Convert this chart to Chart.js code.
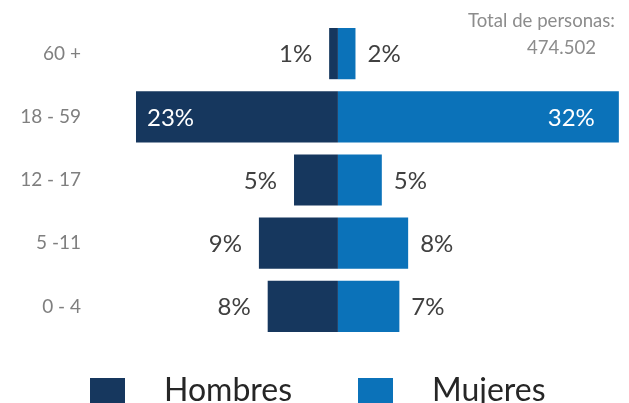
<!DOCTYPE html>
<html>
<head>
<meta charset="utf-8">
<script src="https://cdn.jsdelivr.net/npm/chart.js@4.4.1/dist/chart.umd.min.js"></script>
<style>
  html, body { margin: 0; padding: 0; background: #fff; overflow: hidden; }
  #wrap { width: 629px; height: 403px; position: relative; }
</style>
</head>
<body>
<div id="wrap"><canvas id="pyramid" width="629" height="403"></canvas></div>
<script>
const AGE_GROUPS = ['60 +', '18 - 59', '12 - 17', '5 -11', '0 - 4'];
const HOMBRES = [1, 23, 5, 9, 8];   // % (se dibuja hacia la izquierda)
const MUJERES = [2, 32, 5, 8, 7];   // %
const SERIES = ['Hombres', 'Mujeres'];
const TOTAL_LABEL = 'Total de personas:';
const TOTAL_VALUE = '474.502';
const X_MIN = -27.1, X_MAX = 32.7;

const C_HOM = '#16375E';
const C_MUJ = '#0B72B9';
const FONT = 'Lato, "Open Sans", sans-serif';

// etiquetas de porcentaje, la barra grande lleva el texto dentro en blanco
const barLabels = {
    id: 'barLabels',
    afterDatasetsDraw(chart) {
        const ctx = chart.ctx;
        ctx.save();
        ctx.font = '24px ' + FONT;
        ctx.textBaseline = 'middle';
        chart.data.datasets.forEach((ds, di) => {
            const meta = chart.getDatasetMeta(di);
            meta.data.forEach((bar, i) => {
                const v = Math.abs(ds.data[i]);
                const txt = v + '%';
                const inside = v > 15;
                const y = bar.y + 1;
                if (di === 0) {
                    ctx.fillStyle = inside ? '#fff' : '#404040';
                    ctx.textAlign = inside ? 'left' : 'right';
                    ctx.fillText(txt, inside ? bar.x + 11 : bar.x - 17, y);
                } else {
                    ctx.fillStyle = inside ? '#fff' : '#404040';
                    ctx.textAlign = inside ? 'right' : 'left';
                    ctx.fillText(txt, inside ? bar.x - 24 : bar.x + 12, y);
                }
            });
        });
        ctx.restore();
    }
};

// total arriba a la derecha + leyenda (cortada por el borde inferior)
const extras = {
    id: 'extras',
    afterDraw(chart) {
        const ctx = chart.ctx;
        ctx.save();
        ctx.font = '18.6px ' + FONT;
        ctx.fillStyle = '#8C8C8C';
        ctx.textAlign = 'right';
        ctx.textBaseline = 'alphabetic';
        ctx.fillText(TOTAL_LABEL, 615, 27);
        ctx.fillText(TOTAL_VALUE, 596, 54);

        const pos = [90, 358];
        ctx.font = '32px ' + FONT;
        ctx.textAlign = 'left';
        chart.data.datasets.forEach((ds, i) => {
            ctx.fillStyle = ds.backgroundColor;
            ctx.fillRect(pos[i], 378, 35, 35);
            ctx.fillStyle = '#262626';
            ctx.fillText(ds.label, pos[i] + 74, 401);
        });
        ctx.restore();
    }
};

const ctx = document.getElementById('pyramid').getContext('2d');
new Chart(ctx, {
    type: 'bar',
    data: {
        labels: AGE_GROUPS,
        datasets: [
            { label: SERIES[0], data: HOMBRES.map(v => -v), backgroundColor: C_HOM },
            { label: SERIES[1], data: MUJERES, backgroundColor: C_MUJ }
        ]
    },
    options: {
        indexAxis: 'y',
        responsive: false,
        animation: false,
        devicePixelRatio: 1,
        layout: { padding: { top: 22, bottom: 65, right: 4, left: 0 } },
        datasets: { bar: { barPercentage: 0.81, categoryPercentage: 1 } },
        scales: {
            x: { stacked: true, min: X_MIN, max: X_MAX, display: false },
            y: {
                stacked: true,
                grid: { display: false, drawTicks: false },
                border: { display: false },
                ticks: { color: '#7F7F7F', font: { family: FONT, size: 19 }, padding: 19 },
                afterFit: (axis) => {
                    axis.width = 100;
                    axis.paddingTop = 0;
                    axis.paddingBottom = 0;
                }
            }
        },
        plugins: { legend: { display: false }, tooltip: { enabled: false } }
    },
    plugins: [barLabels, extras]
});
</script>
</body>
</html>
